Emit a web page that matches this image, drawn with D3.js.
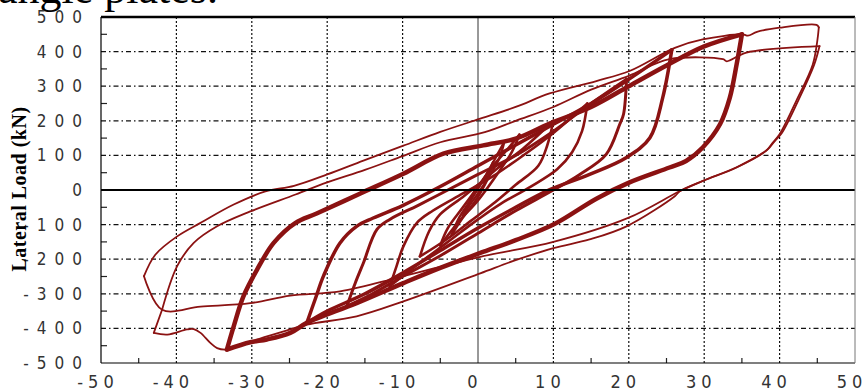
<html>
<head>
<script src="https://d3js.org/d3.v7.min.js"></script>
<style>
body { margin: 0; background: #fff; }
svg { display: block; }
</style>
</head>
<body>
<svg id="chart" width="864" height="390"></svg>
<script>
// displacement (mm) / lateral load (kN)
var xTicks = [-50, -40, -30, -20, -10, 0, 10, 20, 30, 40, 50];
var yTicks = [-500, -400, -300, -200, -100, 0, 100, 200, 300, 400, 500];

var loop2 = [[-2,-75],[-1,-30],[0,5],[1,40],[2,80],[1.4,40],[0,-10],[-1,-40],[-2,-75]];
var loop3 = [[-3.5,-130],[-2.5,-80],[-1,-30],[1,40],[2.5,100],[3.5,140],[2.8,90],[1.5,40],[0,-20],[-2,-80],[-3.5,-130]];
var loop5 = [[-5,-160],[-4,-110],[-2,-50],[0,10],[2,70],[4,120],[5.5,160],[4.5,110],[3,60],[0,-30],[-2.5,-90],[-5,-160]];
var loop8 = [[-7.7,-192],[-6.5,-120],[-5,-70],[-2,-20],[0,15],[3,70],[6,120],[10,200],[9.2,130],[8,70],[5,15],[2,-40],[-1,-90],[-4,-140],[-7.7,-192]];
var loop12 = [[-11.7,-278],[-10.8,-220],[-9.9,-163],[-8.1,-95],[-6,-60],[-2,-10],[2,40],[6,100],[10,165],[14.5,250],[13.8,170],[12.5,110],[10.5,60],[7,10],[3,-40],[0,-85],[-4,-150],[-8,-215],[-11.7,-278]];
var loop18 = [[-17.4,-336],[-16.3,-270],[-15.2,-211],[-13.4,-114],[-11.7,-85],[-8,-45],[-4,0],[0,45],[5,100],[10,170],[15,250],[19.7,320],[19.3,219],[18.8,190],[17,103],[13.5,45],[10,0],[5,-60],[0,-125],[-5,-190],[-10,-250],[-14,-300],[-17.4,-336]];
var loop24 = [[-22.7,-384],[-21.5,-310],[-20.5,-249],[-18.3,-153],[-16.1,-105],[-13.9,-81],[-10,-45],[-5,10],[0,70],[5,130],[10,190],[15,250],[20,320],[25.7,405],[24.5,267],[22.8,151],[19.7,94],[14.8,45],[9.1,-3],[5,-50],[0,-110],[-5,-175],[-10,-240],[-15,-300],[-20,-350],[-22.7,-384]];
var loop34 = [[-33.3,-461],[-32.4,-394],[-31.1,-307],[-29.3,-230],[-27.1,-153],[-24.2,-95],[-21.4,-68],[-15.6,-10],[-9.9,47],[-4.6,105],[0.7,129],[5.1,149],[9.5,192],[15,240],[20,300],[25,360],[30,415],[35,450],[34.3,363],[33.4,267],[32.1,190],[29.8,123],[27.6,84],[25.4,65],[20.1,22],[15.7,-25],[10,-100],[5,-145],[0.3,-182],[-5,-225],[-9.9,-269],[-16.1,-327],[-22.7,-384],[-24.9,-413],[-28,-432],[-30.2,-440],[-33.3,-461]];

var outerA = [[-44.3,-249],[-42.8,-187],[-39.9,-134],[-36.8,-95],[-32.4,-42],[-28.2,-4],[-24.4,12],[-20,45],[-15.2,85],[-9.9,128],[-5,168],[0.3,206],[5,240],[9.5,279],[15.7,315],[20.1,344],[26.1,411],[29.8,435],[35.1,450],[35.8,446],[37,457],[40,469],[44.9,477],[45.2,470],[45,431],[44.4,363],[42.2,257],[40,161],[39.1,137],[38.2,113],[34.3,65],[29.8,26],[26.8,-3],[26.1,-18],[19.7,-105],[14.8,-143],[10,-168],[4.7,-205],[0.3,-241],[-9.9,-322],[-16.1,-365],[-22.7,-389],[-24.9,-403],[-29,-430],[-33.3,-461],[-34.6,-457],[-35.5,-442],[-36.8,-413],[-37.7,-402],[-38.6,-403],[-41.2,-418],[-43,-413],[-41.9,-346]];
var outerB = [[-41.9,-346],[-39.9,-220],[-37.7,-153],[-34.6,-105],[-30.2,-62],[-24.2,-13],[-20,22],[-15,58],[-10,98],[-5,138],[0.9,167],[5,200],[10,240],[15,290],[20,330],[25.4,378],[32.5,378],[33,372],[35.6,397],[45.3,416],[44.6,363],[42.5,260],[40.3,165],[39.3,140],[38.4,117],[34.5,68],[30,28],[26.8,-3],[20,-80],[10,-150],[0.3,-193],[-10,-250],[-18.3,-293],[-24.9,-305],[-30.2,-327],[-36.8,-337],[-41.9,-346],[-44.3,-249]];

var curves = [
  {name: "outerA", pts: outerA},
  {name: "outerB", pts: outerB},
  {name: "loop34", pts: loop34},
  {name: "loop24", pts: loop24},
  {name: "loop18", pts: loop18},
  {name: "loop12", pts: loop12},
  {name: "loop8", pts: loop8},
  {name: "loop5", pts: loop5},
  {name: "loop3", pts: loop3},
  {name: "loop2", pts: loop2}
];
var widths = {outerA: 1.8, outerB: 1.8, loop34: 4.5, loop24: 3.5, loop18: 3, loop12: 2.6, loop8: 2.6, loop5: 2.6, loop3: 2.4, loop2: 2.4};

var svg = d3.select("#chart");
var x = d3.scaleLinear().domain([-50, 50]).range([101, 855]);
var y = d3.scaleLinear().domain([-500, 500]).range([363, 17]);

// clipped caption text from the page above the chart
svg.append("text")
  .attr("x", -2).attr("y", 3)
  .style("font-family", "Liberation Serif, Times New Roman, serif")
  .style("font-size", "44px")
  .text("angle plates.");

// grid
svg.append("g").selectAll("line")
  .data(xTicks.filter(function (d) { return d !== 0 && Math.abs(d) !== 50; }))
  .enter().append("line")
  .attr("x1", function (d) { return x(d); }).attr("x2", function (d) { return x(d); })
  .attr("y1", y(500)).attr("y2", y(-500))
  .attr("stroke", "#111").attr("stroke-width", 1.2)
  .attr("stroke-dasharray", "2,2");

svg.append("g").selectAll("line")
  .data(yTicks.filter(function (d) { return d !== 0 && Math.abs(d) !== 500; }))
  .enter().append("line")
  .attr("x1", x(-50)).attr("x2", x(50))
  .attr("y1", function (d) { return y(d); }).attr("y2", function (d) { return y(d); })
  .attr("stroke", "#111").attr("stroke-width", 1.2)
  .attr("stroke-dasharray", "5,3,1.5,3");

// minor ticks
var minorY = d3.range(-450, 500, 100);
svg.append("g").selectAll("line").data(minorY).enter().append("line")
  .attr("x1", x(-50)).attr("x2", x(-50) + 6)
  .attr("y1", function (d) { return y(d); }).attr("y2", function (d) { return y(d); })
  .attr("stroke", "#222").attr("stroke-width", 1.2);
var minorX = d3.range(-45, 50, 10);
svg.append("g").selectAll("line").data(minorX).enter().append("line")
  .attr("x1", function (d) { return x(d); }).attr("x2", function (d) { return x(d); })
  .attr("y1", y(-500)).attr("y2", y(-500) - 5)
  .attr("stroke", "#222").attr("stroke-width", 1.2);

// zero line (displacement)
svg.append("line")
  .attr("x1", x(0)).attr("x2", x(0)).attr("y1", y(500)).attr("y2", y(-500))
  .attr("stroke", "#333").attr("stroke-width", 1);

// split a loop wherever the displacement reverses, so the peaks stay sharp
function branches(pts) {
  var out = [], cur = [pts[0]], dir = 0;
  for (var i = 1; i < pts.length; i++) {
    var s = Math.sign(pts[i][0] - pts[i - 1][0]);
    if (dir !== 0 && s !== 0 && s !== dir) {
      out.push(cur);
      cur = [pts[i - 1]];
    }
    if (s !== 0) dir = s;
    cur.push(pts[i]);
  }
  out.push(cur);
  return out;
}

var line = d3.line()
  .x(function (d) { return x(d[0]); })
  .y(function (d) { return y(d[1]); })
  .curve(d3.curveCatmullRom.alpha(0.5));

var segs = [];
curves.forEach(function (c) {
  branches(c.pts).forEach(function (b) { segs.push({name: c.name, pts: b}); });
});

svg.append("g").selectAll("path").data(segs).enter().append("path")
  .attr("d", function (c) { return line(c.pts); })
  .attr("fill", "none")
  .attr("stroke", "#8b1212")
  .attr("stroke-width", function (c) { return widths[c.name]; })
  .attr("stroke-linejoin", "round")
  .attr("stroke-linecap", "round");

svg.append("line")
  .attr("x1", x(-50)).attr("x2", x(50)).attr("y1", y(0)).attr("y2", y(0))
  .attr("stroke", "#000").attr("stroke-width", 2.2);

// frame
svg.append("line").attr("x1", x(-50)).attr("x2", x(50)).attr("y1", y(500)).attr("y2", y(500))
  .attr("stroke", "#000").attr("stroke-width", 2.6);
svg.append("line").attr("x1", x(-50)).attr("x2", x(-50)).attr("y1", y(500)).attr("y2", y(-500))
  .attr("stroke", "#000").attr("stroke-width", 1.2);
svg.append("line").attr("x1", x(-50)).attr("x2", x(50)).attr("y1", y(-500)).attr("y2", y(-500))
  .attr("stroke", "#000").attr("stroke-width", 1.2);
svg.append("line").attr("x1", x(50)).attr("x2", x(50)).attr("y1", y(500)).attr("y2", y(-500))
  .attr("stroke", "#777").attr("stroke-width", 1);

// tick labels
var tickFont = "Liberation Sans Narrow, DejaVu Sans Condensed, Arial Narrow, sans-serif";
svg.append("g").selectAll("text").data(yTicks).enter().append("text")
  .attr("x", 90)
  .attr("y", function (d) { return y(d) + 6; })
  .attr("text-anchor", "end")
  .style("font-family", tickFont).style("font-size", "17px")
  .style("letter-spacing", "8px").attr("fill", "#333")
  .text(function (d) { return d; });

svg.append("g").selectAll("text").data(xTicks).enter().append("text")
  .attr("x", function (d) { return x(d) - 3; })
  .attr("y", 388)
  .attr("text-anchor", "middle")
  .style("font-family", tickFont).style("font-size", "18px")
  .style("letter-spacing", "5px").attr("fill", "#333")
  .text(function (d) { return d; });

// axis title
svg.append("text")
  .attr("transform", "translate(26,189) rotate(-90)")
  .attr("text-anchor", "middle")
  .style("font-family", "Liberation Serif, Times New Roman, serif")
  .style("font-weight", "bold").style("font-size", "20px")
  .style("letter-spacing", "0.5px")
  .text("Lateral Load (kN)");
</script>
</body>
</html>
